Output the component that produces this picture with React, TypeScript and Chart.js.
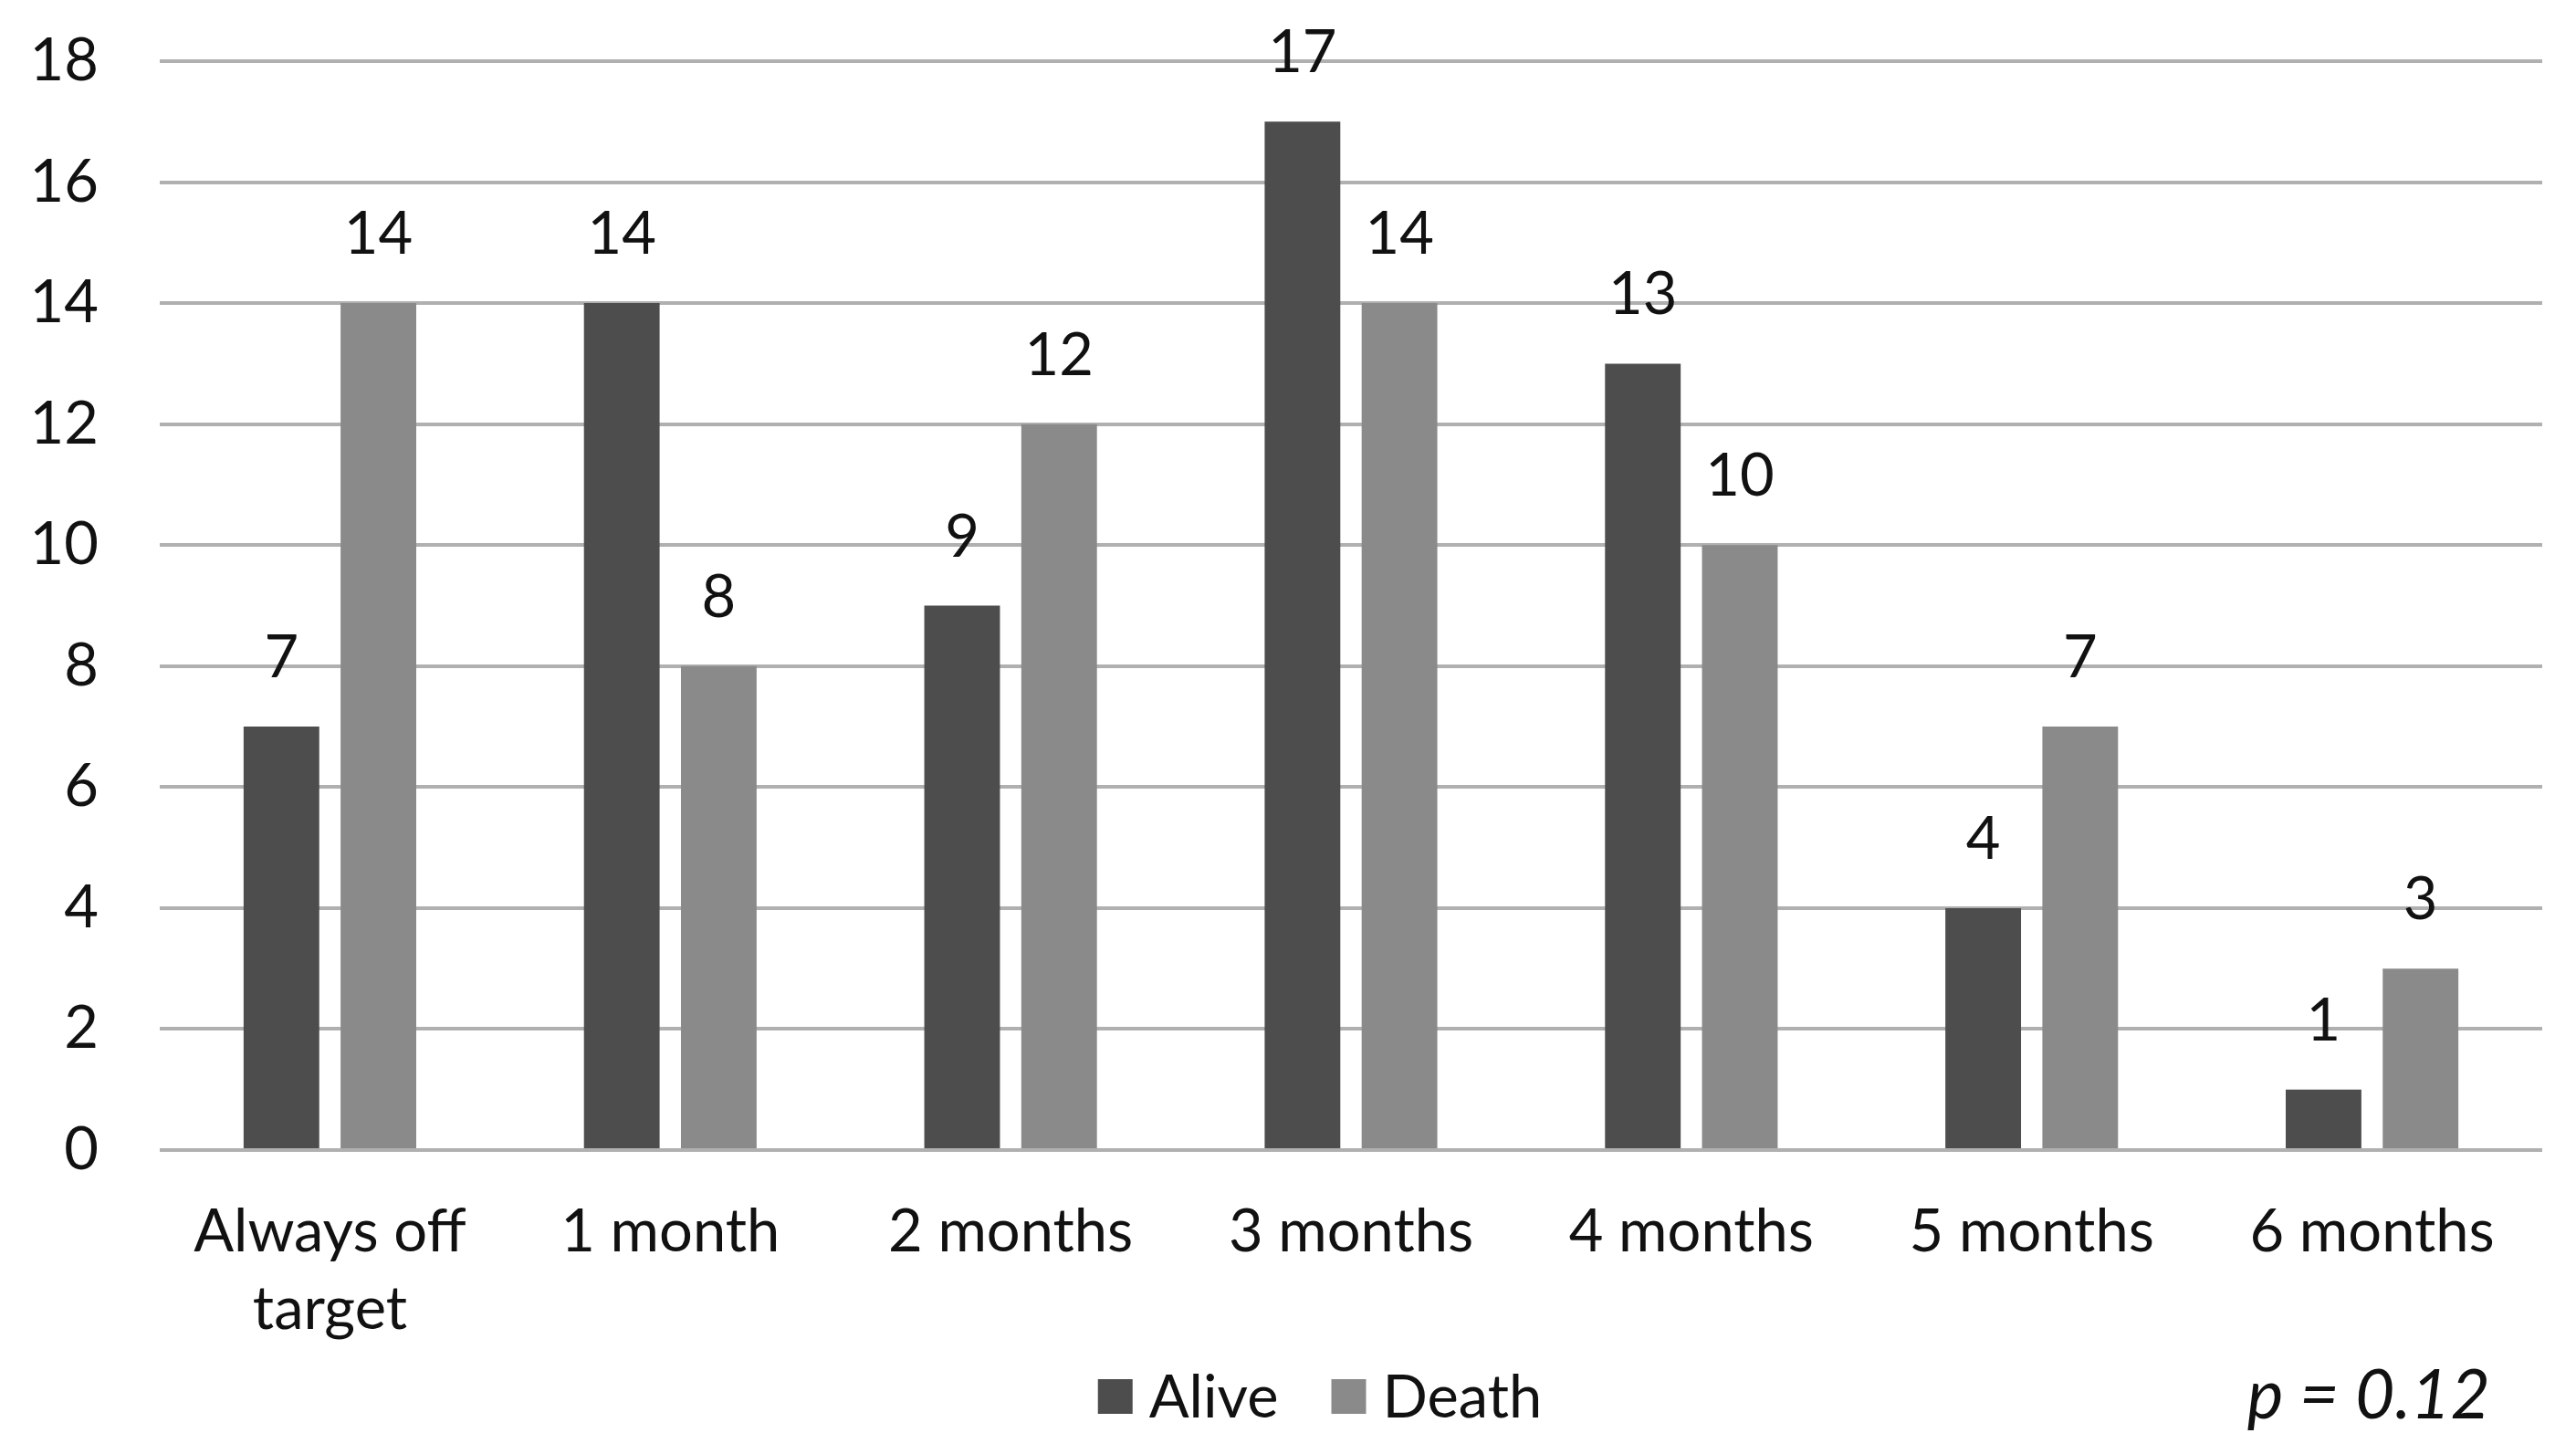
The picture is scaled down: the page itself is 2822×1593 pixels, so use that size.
import React, { useEffect, useRef } from "react";
import { Chart, registerables } from "chart.js";

Chart.register(...registerables);

const categories: (string | string[])[] = [
  ["Always off", "target"],
  "1 month",
  "2 months",
  "3 months",
  "4 months",
  "5 months",
  "6 months",
];
const aliveValues = [7, 14, 9, 17, 13, 4, 1];
const deathValues = [14, 8, 12, 14, 10, 7, 3];
const seriesNames = ["Alive", "Death"];
const seriesColors = ["#4d4d4d", "#8a8a8a"];
const yTicks = [0, 2, 4, 6, 8, 10, 12, 14, 16, 18];
const pValueText = "p = 0.12";

const FONT = "Lato, 'Noto Sans', sans-serif";
const W = 2822;
const H = 1593;

const valueLabels = {
  id: "valueLabels",
  afterDatasetsDraw(chart: any) {
    const ctx = chart.ctx;
    ctx.save();
    ctx.font = `65px ${FONT}`;
    ctx.fillStyle = "#111111";
    ctx.textAlign = "center";
    ctx.textBaseline = "alphabetic";
    chart.data.datasets.forEach((ds: any, di: number) => {
      const meta = chart.getDatasetMeta(di);
      meta.data.forEach((bar: any, i: number) => {
        ctx.fillText(String(ds.data[i]), bar.x, bar.y - 54);
      });
    });
    ctx.restore();
  },
};

const customLegend = {
  id: "customLegend",
  afterDraw(chart: any) {
    const ctx = chart.ctx;
    ctx.save();
    ctx.font = `65px ${FONT}`;
    ctx.textBaseline = "middle";
    ctx.textAlign = "left";
    const box = 38;
    const gap = 18;
    const itemGap = 58;
    const cy = 1530;
    const widths = chart.data.datasets.map((ds: any) => box + gap + ctx.measureText(ds.label).width);
    const total = widths.reduce((a: number, b: number) => a + b, 0) + itemGap * (widths.length - 1);
    let x = 1446 - total / 2;
    chart.data.datasets.forEach((ds: any, i: number) => {
      ctx.fillStyle = ds.backgroundColor;
      ctx.fillRect(x, cy - box / 2, box, box);
      ctx.fillStyle = "#111111";
      ctx.fillText(ds.label, x + box + gap, cy + 2);
      x += widths[i] + itemGap;
    });
    ctx.font = `italic 75px ${FONT}`;
    ctx.textAlign = "right";
    ctx.fillText(pValueText, 2728, cy);
    ctx.restore();
  },
};

export default function App() {
  const ref = useRef<HTMLCanvasElement | null>(null);
  useEffect(() => {
    if (!ref.current) return;
    const chart = new Chart(ref.current, {
      type: "bar",
      data: {
        labels: categories,
        datasets: [
          {
            label: seriesNames[0],
            data: aliveValues,
            backgroundColor: seriesColors[0],
            categoryPercentage: 0.57,
            barPercentage: 0.78,
          },
          {
            label: seriesNames[1],
            data: deathValues,
            backgroundColor: seriesColors[1],
            categoryPercentage: 0.57,
            barPercentage: 0.78,
          },
        ],
      },
      options: {
        responsive: false,
        animation: false,
        devicePixelRatio: 1,
        layout: { padding: { left: 0, right: 37, top: 67, bottom: 120 } },
        scales: {
          x: {
            grid: { display: false, drawTicks: false },
            border: { display: false },
            ticks: {
              color: "#111111",
              font: { family: FONT, size: 65, lineHeight: 1.31 },
              padding: 47,
              maxRotation: 0,
              autoSkip: false,
            },
            afterFit(scale: any) {
              scale.height = 213;
            },
          },
          y: {
            min: 0,
            max: 18,
            afterBuildTicks(scale: any) {
              scale.ticks = yTicks.map((v) => ({ value: v }));
            },
            grid: { color: "#b0b0b0", lineWidth: 4, drawTicks: false },
            border: { display: false },
            ticks: {
              color: "#111111",
              font: { family: FONT, size: 65 },
              padding: 67,
            },
            afterFit(scale: any) {
              scale.width = 175;
              scale.paddingTop = 0;
              scale.paddingBottom = 0;
            },
          },
        },
        plugins: {
          legend: { display: false },
          tooltip: { enabled: false },
        },
      },
      plugins: [valueLabels, customLegend],
    });
    return () => chart.destroy();
  }, []);
  return (
    <div style={{ position: "absolute", left: 0, top: 0, width: W, height: H, background: "#ffffff" }}>
      <canvas ref={ref} width={W} height={H} style={{ width: W, height: H, display: "block" }} />
    </div>
  );
}
